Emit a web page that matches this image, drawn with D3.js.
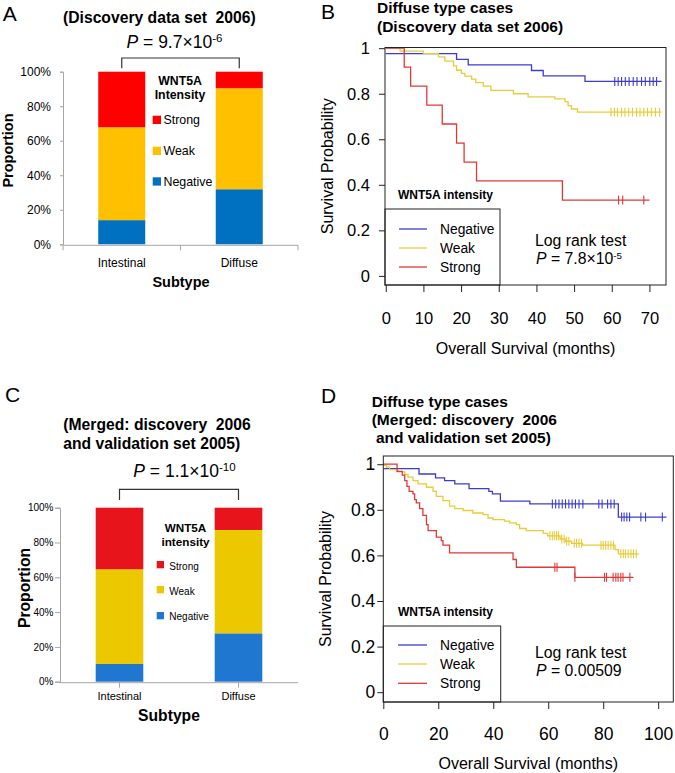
<!DOCTYPE html>
<html><head><meta charset="utf-8">
<script src="https://cdn.jsdelivr.net/npm/d3@7"></script>
<style>
body{margin:0;background:#fff}
svg{display:block}
text{font-family:"Liberation Sans",Arial,Helvetica,sans-serif;white-space:pre}
</style>
</head><body>
<svg id="c" width="675" height="773"></svg>
<script>
// ================= DATA =================
const subtypes = ["Intestinal", "Diffuse"];
const intensities = ["Negative", "Weak", "Strong"];
const pctTicks = [0, 20, 40, 60, 80, 100];

// Panel A: proportion (%) by subtype, discovery set 2006
const aNegative = [14.0, 31.9];
const aWeak     = [53.8, 58.5];
const aStrong   = [32.2, 9.6];

// Panel C: merged 2006 + 2005
const cNegative = [10.2, 27.8];
const cWeak     = [54.4, 59.4];
const cStrong   = [35.4, 12.8];

// Panel B: KM curves (months, survival probability)
const bNegTimes = [0, 18.8, 21.9, 38.7, 41.8, 52.9];
const bNegSurv  = [0.976, 0.951, 0.927, 0.902, 0.878, 0.854];
const bNegEnd   = 73.2;
const bNegCens  = [60.8, 61.7, 62.6, 63.6, 64.6, 65.7, 66.7, 67.9, 68.9, 70.1, 71.0, 71.9];

const bWeakTimes = [0, 3.8, 10, 14, 15.7, 18, 18.8, 20.1, 21, 22.8, 23.9, 25.9, 27.9, 33.9, 37.8, 44.9, 47.6, 48.4, 49.3, 50.9];
const bWeakSurv  = [1, 0.987, 0.976, 0.962, 0.943, 0.922, 0.903, 0.889, 0.877, 0.864, 0.849, 0.833, 0.815, 0.800, 0.786, 0.777, 0.765, 0.748, 0.733, 0.719];
const bWeakEnd   = 73.2;
const bWeakCens  = [59.8, 60.7, 61.5, 62.6, 63.5, 64.5, 65.5, 66.6, 67.5, 68.5, 69.5, 70.5, 71.6, 72.7];

const bStrTimes = [0, 4.9, 6.6, 10.9, 15, 18.8, 20.8, 24.1, 46.9];
const bStrSurv  = [1, 0.917, 0.833, 0.75, 0.667, 0.583, 0.5, 0.417, 0.333];
const bStrEnd   = 70;
const bStrCens  = [61.8, 62.9, 68.5];

// Panel D: KM curves merged
const dNegTimes = [0, 13, 19, 22.3, 26, 31.2, 38.4, 39.7, 42.6, 53.3, 85.5];
const dNegSurv  = [0.981, 0.957, 0.940, 0.928, 0.914, 0.893, 0.881, 0.870, 0.838, 0.826, 0.768];
const dNegEnd   = 103;
const dNegCens  = [61.5, 62.7, 63.9, 65.1, 66.3, 67.5, 68.7, 69.9, 71.2, 72.6, 78.4, 79.6, 81.6, 82.8, 84.0, 86.7, 87.6, 88.6, 89.6, 93.7, 95.4, 101.5];

const dWeakTimes = [0, 1.1, 2.3, 5.4, 7.8, 9, 10.8, 12.6, 15.7, 18.1, 19.3, 21.7, 24.1, 26, 29, 32.6, 36.3, 38.1, 39.9, 44.1, 46, 48.4, 49.6, 52, 58.2, 59.8, 64.3, 66.1, 68.5, 72.5, 84.3, 85.5];
const dWeakSurv  = [0.995, 0.987, 0.976, 0.966, 0.955, 0.943, 0.928, 0.914, 0.899, 0.881, 0.859, 0.840, 0.816, 0.805, 0.797, 0.786, 0.779, 0.764, 0.757, 0.750, 0.743, 0.735, 0.718, 0.709, 0.697, 0.686, 0.672, 0.662, 0.653, 0.645, 0.625, 0.607];
const dWeakEnd   = 93;
const dWeakCens  = [60.6, 61.5, 62.2, 63.0, 63.7, 64.9, 65.8, 66.7, 67.5, 69.5, 70.3, 71.2, 72.1, 79.2, 80.0, 80.9, 81.8, 82.8, 83.7, 86.4, 87.3, 88.1, 89.1, 90.1, 91.0, 92.0];

const dStrTimes = [0, 5, 6.9, 7.8, 8.6, 9.4, 10.8, 11.4, 12, 13.2, 14.4, 15.7, 16.3, 19.3, 21.1, 21.7, 24.1, 47.2, 48.4, 69.7];
const dStrSurv  = [1, 0.969, 0.952, 0.928, 0.903, 0.881, 0.870, 0.845, 0.830, 0.805, 0.776, 0.735, 0.709, 0.680, 0.665, 0.645, 0.611, 0.582, 0.548, 0.504];
const dStrEnd   = 91;
const dStrCens  = [62.4, 63.2, 69.7, 80.5, 81.2, 83.6, 84.6, 85.4, 86.4, 87.2, 89.7];

const survTicks = [0, 0.2, 0.4, 0.6, 0.8, 1];
const bMonthTicks = [0, 10, 20, 30, 40, 50, 60, 70];
const dMonthTicks = [0, 20, 40, 60, 80, 100];

// ================= DRAWING =================
const svg = d3.select("#c");

function txt(g, x, y, s, o = {}) {
  const t = g.append("text").attr("x", x).attr("y", y).text(s)
    .attr("font-size", o.size || 12)
    .attr("text-anchor", o.anchor || "start")
    .attr("fill", "#000");
  if (o.bold) t.attr("font-weight", "bold");
  if (o.rotate) t.attr("transform", `rotate(-90,${x},${y})`);
  return t;
}
function pText(g, x, y, base, sup, size, raise = 0.36, supScale = 0.66) {
  const t = g.append("text").attr("x", x).attr("y", y).attr("font-size", size);
  t.append("tspan").attr("font-style", "italic").text("P");
  t.append("tspan").text(" = " + base);
  if (sup) t.append("tspan").attr("dy", -size * raise).attr("font-size", size * supScale).text(sup);
  return t;
}

function barPanel(o) {
  const g = svg.append("g");
  const x = d3.scaleBand().domain(subtypes).range(o.xRange);
  const y = d3.scaleLinear().domain([0, 100]).range(o.yRange);
  const rows = subtypes.map((s, i) => ({subtype: s, Negative: o.neg[i], Weak: o.weak[i], Strong: o.strong[i]}));
  const series = d3.stack().keys(intensities)(rows);
  g.selectAll(".layer").data(series).join("g").attr("fill", d => o.colors[d.key])
    .selectAll("rect").data(d => d).join("rect")
    .attr("x", d => x(d.data.subtype) + x.bandwidth() * 0.3)
    .attr("width", x.bandwidth() * 0.4)
    .attr("y", d => y(d[1]))
    .attr("height", d => y(d[0]) - y(d[1]));

  // y axis
  const ya = g.append("g").attr("transform", `translate(${o.xRange[0]},0)`)
    .call(d3.axisLeft(y).tickValues(pctTicks).tickFormat(d => d + "%")
      .tickSizeOuter(0).tickSize(o.yTickLen).tickPadding(o.yPad));
  ya.attr("font-family", null).attr("font-size", o.tickFont);
  ya.select(".domain").attr("stroke", o.axisColor);
  ya.selectAll(".tick line").attr("stroke", o.axisColor);
  ya.selectAll(".tick text").attr("fill", "#000");

  // x axis
  const axY = y(0) + 1;
  g.append("line").attr("x1", o.xRange[0]).attr("x2", o.xRange[1]).attr("y1", axY).attr("y2", axY)
    .attr("stroke", o.axisColor);
  const tickXs = o.edgeTicks
    ? [...subtypes.map(s => x(s)), o.xRange[1]]
    : subtypes.map(s => x(s) + x.bandwidth() / 2);
  g.selectAll(null).data(tickXs).join("line")
    .attr("x1", d => d).attr("x2", d => d).attr("y1", axY).attr("y2", axY + 5)
    .attr("stroke", o.axisColor);
  subtypes.forEach(s => txt(g, x(s) + x.bandwidth() / 2, o.catY, s, {size: o.catFont, anchor: "middle"}));
  txt(g, o.subX, o.subY, "Subtype", {size: o.labFont, bold: true, anchor: "middle"});
  txt(g, o.propX, o.propY, "Proportion", {size: o.labFont, bold: true, anchor: "middle", rotate: true});

  // titles
  o.title.forEach((t, i) => txt(g, o.titleX, o.titleY[i], t, {size: 15.7, bold: true}));
  pText(g, o.pX, o.pY, o.pBase, o.pSup, 17.5);

  // bracket
  const c1 = x(subtypes[0]) + x.bandwidth() / 2, c2 = x(subtypes[1]) + x.bandwidth() / 2;
  g.append("path").attr("d", `M${c1},${o.brBot}V${o.brTop}H${c2}V${o.brBot}`)
    .attr("fill", "none").attr("stroke", "#333").attr("stroke-width", 1.2);

  // legend
  o.legHead.forEach((t, i) => txt(g, o.legHeadX, o.legHeadY[i], t, {size: o.legHeadFont, bold: true, anchor: "middle"}));
  ["Strong", "Weak", "Negative"].forEach((k, i) => {
    g.append("rect").attr("x", o.legSqX).attr("y", o.legSqY[i]).attr("width", o.legSq).attr("height", o.legSq)
      .attr("fill", o.colors[k]);
    txt(g, o.legTxtX, o.legTxtY[i], k, {size: o.legFont});
  });
  txt(g, o.letter[0], o.letter[1], o.letter[2], {size: 21});
}

function kmPanel(o) {
  const g = svg.append("g");
  const x = d3.scaleLinear().domain(o.xDomain).range(o.xRange);
  const y = d3.scaleLinear().domain(o.yDomain).range(o.yRange);
  const line = d3.line().x(d => x(d[0])).y(d => y(d[1])).curve(d3.curveStepAfter);

  o.groups.forEach(s => {
    const pts = s.times.map((t, i) => [t, s.surv[i]]);
    pts.push([s.end, s.surv[s.surv.length - 1]]);
    g.append("path").attr("d", line(pts)).attr("fill", "none")
      .attr("stroke", s.color).attr("stroke-width", 1.3);
    const sAt = t => s.surv[d3.bisectRight(s.times, t) - 1];
    g.selectAll(null).data(s.cens).join("line")
      .attr("x1", t => x(t)).attr("x2", t => x(t))
      .attr("y1", t => y(sAt(t)) - 4.5).attr("y2", t => y(sAt(t)) + 4.5)
      .attr("stroke", s.color).attr("stroke-width", 1.1);
  });

  // frame
  g.append("rect").attr("x", o.xRange[0]).attr("y", o.yRange[1])
    .attr("width", o.xRange[1] - o.xRange[0]).attr("height", o.yRange[0] - o.yRange[1])
    .attr("fill", "none").attr("stroke", "#222");

  // x axis
  const xa = g.append("g").attr("transform", `translate(0,${o.yRange[0]})`)
    .call(d3.axisBottom(x).tickValues(o.xTicks).tickFormat(d3.format("d")).tickSizeOuter(0).tickSize(7).tickPadding(o.xPad));
  xa.attr("font-family", null).attr("font-size", o.tickFont);
  xa.select(".domain").remove();
  xa.selectAll(".tick line").attr("stroke", "#222");
  xa.selectAll(".tick text").attr("fill", "#000");
  // y axis
  const ya = g.append("g").attr("transform", `translate(${o.xRange[0]},0)`)
    .call(d3.axisLeft(y).tickValues(survTicks).tickFormat(d3.format(".1~f")).tickSizeOuter(0).tickSize(6).tickPadding(o.yPad));
  ya.attr("font-family", null).attr("font-size", o.tickFont);
  ya.select(".domain").remove();
  ya.selectAll(".tick line").attr("stroke", "#222");
  ya.selectAll(".tick text").attr("fill", "#000");

  txt(g, (o.xRange[0] + o.xRange[1]) / 2, o.xLabY, "Overall Survival (months)", {size: 16, anchor: "middle"});
  txt(g, o.yLabX, (o.yRange[0] + o.yRange[1]) / 2, "Survival Probability", {size: 16, anchor: "middle", rotate: true});

  o.title.forEach((t, i) => txt(g, o.titleX, o.titleY[i], t, {size: 15.5, bold: true}));

  // legend
  g.append("rect").attr("x", o.xRange[0]).attr("y", o.legTop)
    .attr("width", o.legRight - o.xRange[0]).attr("height", o.yRange[0] - o.legTop)
    .attr("fill", "none").attr("stroke", "#222");
  txt(g, o.legHeadX, o.legHeadY, "WNT5A intensity", {size: 12, bold: true});
  o.groups.forEach((s, i) => {
    g.append("line").attr("x1", o.legLineX[0]).attr("x2", o.legLineX[1])
      .attr("y1", o.legLineY[i]).attr("y2", o.legLineY[i])
      .attr("stroke", s.color).attr("stroke-width", 1.3);
    txt(g, o.legTxtX, o.legLineY[i] + 5, s.name, {size: 13.8});
  });
  txt(g, o.lrX, o.lrY, "Log rank test", {size: 15.8});
  pText(g, o.lrX + 1, o.lrY + 18, o.pBase, o.pSup, 15.8, 0.3, 0.62);
  txt(g, o.letter[0], o.letter[1], o.letter[2], {size: 21});
}

// ---- Panel A ----
barPanel({
  neg: aNegative, weak: aWeak, strong: aStrong,
  colors: {Strong: "#FF0000", Weak: "#FFC000", Negative: "#0070C0"},
  xRange: [63, 298], yRange: [244.3, 71.7], axisColor: "#a6a6a6",
  yTickLen: 3, yPad: 9, tickFont: 12, edgeTicks: true,
  catY: 266.7, catFont: 12, subX: 181, subY: 286.7, propX: 12.5, propY: 150.5, labFont: 14.5,
  title: ["(Discovery data set  2006)"], titleX: 63, titleY: [22.5],
  pX: 126.5, pY: 48.3, pBase: "9.7×10", pSup: "-6",
  brTop: 58, brBot: 68.3,
  legHead: ["WNT5A", "Intensity"], legHeadX: 180, legHeadY: [85, 99], legHeadFont: 12.3,
  legSqX: 152.7, legSq: 8.3, legSqY: [115.7, 146.7, 177.3], legTxtX: 163.5, legTxtY: [124, 155, 186], legFont: 12.4,
  letter: [2.7, 20.7, "A"]
});

// ---- Panel C ----
barPanel({
  neg: cNegative, weak: cWeak, strong: cStrong,
  colors: {Strong: "#E8141C", Weak: "#EBC800", Negative: "#1F77D0"},
  xRange: [60, 298], yRange: [681.7, 507.7], axisColor: "#a6a6a6",
  yTickLen: 5, yPad: 1.5, tickFont: 10, edgeTicks: false,
  catY: 700, catFont: 11, subX: 169, subY: 721, propX: 29.5, propY: 588, labFont: 15.7,
  title: ["(Merged: discovery  2006", "and validation set 2005)"], titleX: 63.3, titleY: [430, 448.5],
  pX: 133.3, pY: 477, pBase: "1.1×10", pSup: "-10",
  brTop: 489.3, brBot: 500,
  legHead: ["WNT5A", "intensity"], legHeadX: 185.5, legHeadY: [531.7, 545.5], legHeadFont: 11.7,
  legSqX: 156.7, legSq: 7.3, legSqY: [561, 586, 612], legTxtX: 169.3, legTxtY: [569.5, 594.5, 620], legFont: 10,
  letter: [5, 401.7, "C"]
});

// ---- Panel B ----
const kmColors = {Negative: "#3c3cd2", Weak: "#e8cc3a", Strong: "#e23838"};
kmPanel({
  xDomain: [-0.2, 74.4], xRange: [385, 666], yDomain: [-0.04, 1.003], yRange: [285, 47.5],
  xTicks: bMonthTicks, tickFont: 16.5, xPad: 20, yPad: 9,
  xLabY: 354, yLabX: 333,
  title: ["Diffuse type cases", "(Discovery data set 2006)"], titleX: 377, titleY: [13, 31.5],
  groups: [
    {name: "Negative", color: kmColors.Negative, times: bNegTimes, surv: bNegSurv, end: bNegEnd, cens: bNegCens},
    {name: "Weak", color: kmColors.Weak, times: bWeakTimes, surv: bWeakSurv, end: bWeakEnd, cens: bWeakCens},
    {name: "Strong", color: kmColors.Strong, times: bStrTimes, surv: bStrSurv, end: bStrEnd, cens: bStrCens}
  ],
  legTop: 209, legRight: 500, legHeadX: 398, legHeadY: 199.3,
  legLineX: [399, 427], legLineY: [229, 248, 267], legTxtX: 440,
  lrX: 535, lrY: 246, pBase: "7.8×10", pSup: "-5",
  letter: [321, 19, "B"]
});

// ---- Panel D ----
kmPanel({
  xDomain: [0, 105.5], xRange: [383.3, 673.3], yDomain: [-0.043, 1.036], yRange: [702, 456],
  xTicks: dMonthTicks, tickFont: 17.5, xPad: 19, yPad: 2,
  xLabY: 769, yLabX: 331,
  title: ["Diffuse type cases", "(Merged: discovery  2006", " and validation set 2005)"], titleX: 371.7, titleY: [406.5, 425, 443],
  groups: [
    {name: "Negative", color: kmColors.Negative, times: dNegTimes, surv: dNegSurv, end: dNegEnd, cens: dNegCens},
    {name: "Weak", color: kmColors.Weak, times: dWeakTimes, surv: dWeakSurv, end: dWeakEnd, cens: dWeakCens},
    {name: "Strong", color: kmColors.Strong, times: dStrTimes, surv: dStrSurv, end: dStrEnd, cens: dStrCens}
  ],
  legTop: 626, legRight: 500.7, legHeadX: 398, legHeadY: 616.3,
  legLineX: [398, 427], legLineY: [645, 664, 683.3], legTxtX: 440,
  lrX: 535, lrY: 658, pBase: "0.00509", pSup: null,
  letter: [321, 403, "D"]
});
</script>
</body></html>
